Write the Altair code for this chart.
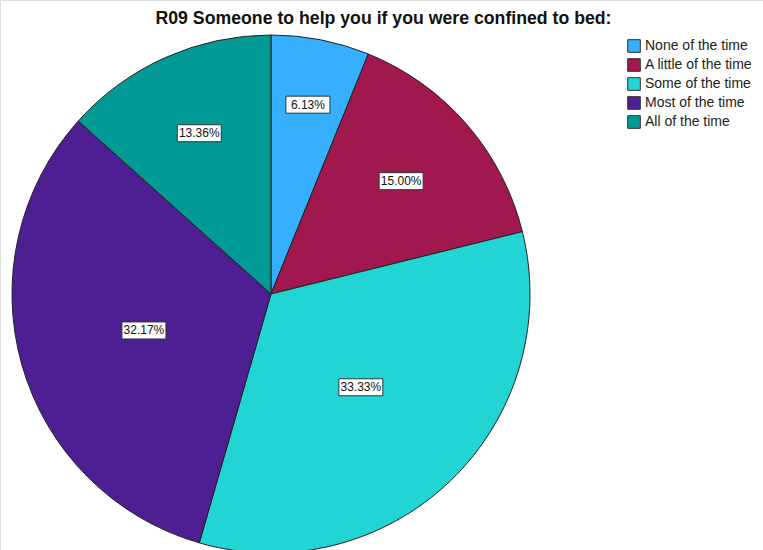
import altair as alt
import pandas as pd

TITLE = "R09 Someone to help you if you were confined to bed:"
categories = ["None of the time", "A little of the time", "Some of the time",
              "Most of the time", "All of the time"]
percents = [6.13, 15.00, 33.33, 32.17, 13.36]
colors = ["#35AFFE", "#A1184F", "#22D4D4", "#4E1F93", "#019A94"]

df = pd.DataFrame({"cat": categories, "pct": percents, "order": list(range(len(categories)))})

CX, CY, R = 271, 294, 259
FONT = "Liberation Sans"

base = alt.Chart(df)

color = alt.Color(
    "cat:N",
    scale=alt.Scale(domain=categories, range=colors),
    sort=categories,
    legend=alt.Legend(
        title=None, orient="none", legendX=627, legendY=39,
        symbolType="square", symbolSize=160, symbolStrokeColor="#333333",
        symbolStrokeWidth=1, symbolOpacity=1, labelFont=FONT, labelFontSize=14,
        labelColor="#222222", rowPadding=1, labelOffset=4, padding=0,
    ),
)

pie = base.mark_arc(outerRadius=R, stroke="#222222", strokeWidth=1).encode(
    theta=alt.Theta("pct:Q", stack=True),
    color=color,
    order=alt.Order("order:Q"),
    x=alt.value(CX),
    y=alt.value(CY),
)

lab = base.transform_window(
    cum="sum(pct)", sort=[alt.SortField("order")], frame=[None, 0]
).transform_joinaggregate(total="sum(pct)").transform_calculate(
    a0="(datum.cum - datum.pct) / datum.total * 2 * PI",
    a1="datum.cum / datum.total * 2 * PI",
).transform_calculate(
    mid="(datum.a0 + datum.a1) / 2",
    frac="datum.pct / datum.total",
).transform_calculate(
    rr=f"{R} * (0.8 - 0.9 * datum.frac)",
    label="format(datum.pct, '.2f') + '%'",
).transform_calculate(
    lx=f"{CX} + datum.rr * sin(datum.mid)",
    ly=f"{CY} - datum.rr * cos(datum.mid)",
).transform_calculate(
    bx0="datum.lx - 22",
    bx1="datum.lx + 22",
    by0="datum.ly - 8.5",
    by1="datum.ly + 8.5",
)

boxes = lab.mark_rect(fill="white", stroke="#2a3a3a", strokeWidth=1).encode(
    x=alt.X("bx0:Q", scale=None, axis=None),
    x2="bx1:Q",
    y=alt.Y("by0:Q", scale=None, axis=None),
    y2="by1:Q",
)

texts = lab.mark_text(font=FONT, fontSize=12, color="#111111", baseline="middle", align="center").encode(
    x=alt.X("lx:Q", scale=None, axis=None),
    y=alt.Y("ly:Q", scale=None, axis=None),
    text="label:N",
)

title = alt.Chart(pd.DataFrame({"t": [TITLE]})).mark_text(
    font=FONT, fontSize=17.7, fontWeight="bold", color="#111111", align="center", baseline="middle"
).encode(x=alt.value(383.5), y=alt.value(19), text="t:N")

chart = alt.layer(pie, boxes, texts, title).properties(
    width=763, height=550,
    autosize=alt.AutoSizeParams(type="none"),
    padding=0,
).configure_view(stroke=None).configure(background="white")

chart.save("out.html", embed_options={"renderer": "svg", "actions": False})
